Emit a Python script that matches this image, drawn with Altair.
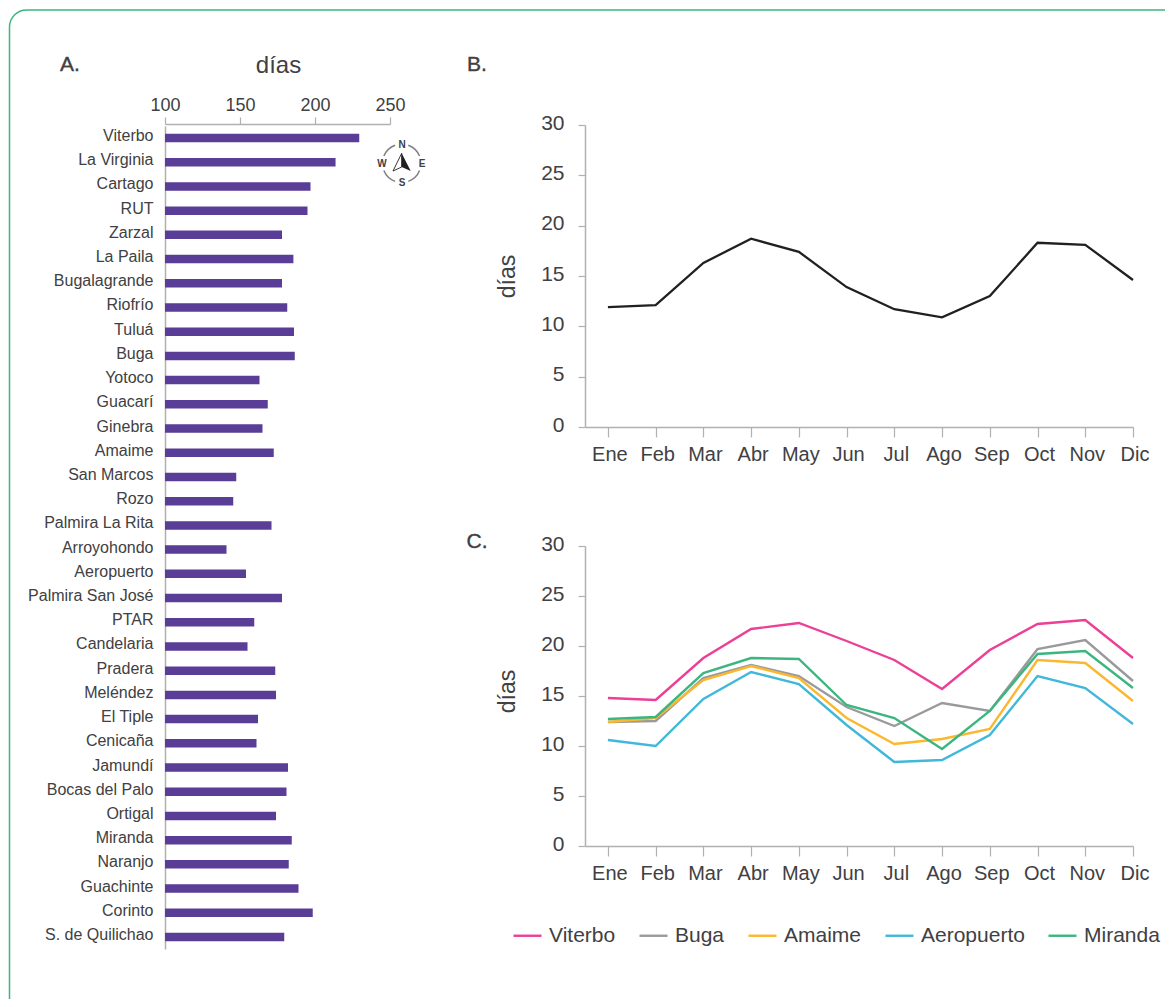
import altair as alt
import pandas as pd
import math

stations = ["Viterbo","La Virginia","Cartago","RUT","Zarzal","La Paila","Bugalagrande","Riofrío","Tuluá","Buga","Yotoco","Guacarí","Ginebra","Amaime","San Marcos","Rozo","Palmira La Rita","Arroyohondo","Aeropuerto","Palmira San José","PTAR","Candelaria","Pradera","Meléndez","El Tiple","Cenicaña","Jamundí","Bocas del Palo","Ortigal","Miranda","Naranjo","Guachinte","Corinto","S. de Quilichao"]
days = [229.5,213.7,197,195,178,185.6,178,181.5,186,186.5,163,168.5,165,172.5,147.5,145.5,171,141,154,178,159.5,155,173.5,174,162,161,182,181,174,184.5,182.5,189,198.5,179.5]
months = ["Ene","Feb","Mar","Abr","May","Jun","Jul","Ago","Sep","Oct","Nov","Dic"]
regional = [11.9,12.1,16.3,18.7,17.4,13.9,11.7,10.9,13.0,18.3,18.1,14.6]
viterbo = [14.8,14.6,18.8,21.7,22.3,20.5,18.6,15.7,19.6,22.2,22.6,18.8]
buga = [12.4,12.5,16.8,18.1,17.0,13.9,12.0,14.3,13.5,19.7,20.6,16.5]
amaime = [12.4,12.8,16.6,18.0,16.8,12.8,10.2,10.7,11.7,18.6,18.3,14.5]
aeropuerto = [10.6,10.0,14.7,17.4,16.2,12.1,8.4,8.6,11.1,17.0,15.8,12.2]
miranda = [12.7,12.9,17.3,18.8,18.7,14.1,12.8,9.7,13.5,19.2,19.5,15.8]
series = {"Viterbo":viterbo,"Buga":buga,"Amaime":amaime,"Aeropuerto":aeropuerto,"Miranda":miranda}
colors = ["#ec3f96","#9a9a9c","#fbb82f","#41b8d9","#3cb67f"]

FONT = "Liberation Sans"
TXT = "#414042"
AX = "#b1b1b3"
one = pd.DataFrame({"k":[0]})

df_a = pd.DataFrame({"station":stations,"days":days})
df_b = pd.DataFrame({"m":range(12),"v":regional})
df_c = pd.DataFrame([{"m":i,"v":v,"s":k,"o":j} for j,(k,vals) in enumerate(series.items()) for i,v in enumerate(vals)])

label_expr = "[" + ",".join(f"'{m}'" for m in months) + "][datum.value]"

box = alt.Chart(one).mark_rect(cornerRadius=17, fillOpacity=0, stroke="#3cb67f", strokeWidth=1.5).encode(
    x=alt.value(1.5), x2=alt.value(1300), y=alt.value(2), y2=alt.value(1015))

bars = alt.Chart(df_a).mark_bar(size=8.5, color="#5a3d96").encode(
    x=alt.X("days:Q", scale=alt.Scale(domain=[100,250], range=[157,382], nice=False),
            axis=alt.Axis(orient="top", offset=-116, values=[100,150,200,250], grid=False,
                          title="días", titleFontSize=24, titleFont=FONT, titleFontWeight="normal", titleColor=TXT,
                          titleX=270, titleY=-59, titleAlign="center", titleBaseline="middle",
                          labelFont=FONT, labelFontSize=18, labelColor=TXT, labelPadding=3,
                          tickSize=7, tickColor=AX, domainColor=AX, domainWidth=1.5, tickWidth=1.2, labelFlush=False)),
    x2=alt.datum(100),
    y=alt.Y("station:N", sort=stations, scale=alt.Scale(domain=stations, range=[117.9,941.1], padding=0),
            axis=alt.Axis(orient="left", offset=-157, title=None, ticks=False, grid=False,
                          labelFont=FONT, labelFontSize=16, labelColor=TXT, labelPadding=12, labelOffset=-2,
                          domainColor=AX, domainWidth=1.5, labelOverlap=False, labelLimit=200)),
)

def x_axis(off):
    return alt.Axis(orient="bottom", offset=off, values=list(range(12)), labelExpr=label_expr, title=None, grid=False,
                    labelFont=FONT, labelFontSize=20, labelColor=TXT, labelPadding=7, labelOffset=1.5, labelOverlap=False, labelFlush=False,
                    tickSize=10, tickColor=AX, tickWidth=1.2, domainColor=AX, domainWidth=1.5)

def y_axis(title_y):
    return alt.Axis(orient="left", offset=-577, values=[0,5,10,15,20,25,30], grid=False,
                    title="días", titleFont=FONT, titleFontSize=23, titleFontWeight="normal", titleColor=TXT, titleAngle=270,
                    titleX=-78, titleY=title_y, titleAlign="center", titleBaseline="middle",
                    labelFont=FONT, labelFontSize=21, labelColor=TXT, labelPadding=14, labelOffset=-2,
                    tickSize=7, tickColor=AX, tickWidth=1.2, domainColor=AX, domainWidth=1.5)

HEIGHT = 991
line_b = alt.Chart(df_b).mark_line(color="#231f20", strokeWidth=2.3).encode(
    x=alt.X("m:Q", scale=alt.Scale(domain=[-0.48,11], range=[577,1125], nice=False, zero=False), axis=x_axis(419-HEIGHT)),
    y=alt.Y("v:Q", scale=alt.Scale(domain=[0,30], range=[419,117], nice=False), axis=y_axis(268)),
)

line_c = alt.Chart(df_c).mark_line(strokeWidth=2.4).encode(
    x=alt.X("m:Q", scale=alt.Scale(domain=[-0.48,11], range=[577,1125], nice=False, zero=False), axis=x_axis(838-HEIGHT)),
    y=alt.Y("v:Q", scale=alt.Scale(domain=[0,30], range=[838,538], nice=False), axis=y_axis(683)),
    color=alt.Color("s:N", scale=alt.Scale(domain=list(series), range=colors),
                    legend=alt.Legend(orient="none", legendX=504, legendY=912, direction="horizontal", columns=5, title=None,
                                      symbolType="stroke", symbolSize=784, symbolStrokeWidth=2.4, labelFont=FONT, labelFontSize=21,
                                      labelColor=TXT, labelOffset=6, columnPadding=18)),
    order="o:Q",
    detail="s:N",
)

def txt(s, x, y, size, **kw):
    return alt.Chart(one).mark_text(font=FONT, fontSize=size, color=kw.pop("color", TXT), align="center", baseline="middle", **kw).encode(
        x=alt.value(x-8), y=alt.value(y-8), text=alt.value(s))

panel_labels = [txt("A.",70,65,21,stroke=TXT,strokeWidth=0.4), txt("B.",477,65,21,stroke=TXT,strokeWidth=0.4), txt("C.",477,542,21,stroke=TXT,strokeWidth=0.4)]

# compass
CX, CY = 401.7-8, 163.3-8
arc_degrees = [(20,68),(112,160),(200,248),(292,340)]
arcs = [alt.Chart(one).mark_arc(theta=math.radians(a), theta2=math.radians(b), radius=20, radius2=18.5, color="#808082").encode(
            x=alt.value(CX), y=alt.value(CY)) for a,b in arc_degrees]
arrow_left = alt.Chart(one).mark_point(shape="M0,-1L-0.87,0.77L0,0.37Z", size=400, filled=False, stroke="#231f20", strokeWidth=0.9, opacity=1).encode(
    x=alt.value(CX), y=alt.value(CY))
arrow_right = alt.Chart(one).mark_point(shape="M0,-1L0.9,0.77L0,0.37Z", size=400, filled=True, fill="#231f20", opacity=1).encode(
    x=alt.value(CX), y=alt.value(CY))
letters = [txt("N",402,145,10,fontWeight="bold"), txt("E",422,164,10,fontWeight="bold"),
           txt("S",402,183,10,fontWeight="bold"), txt("W",382,164,10,fontWeight="bold")]

chart = alt.layer(box, bars, line_b, line_c, *panel_labels, *arcs, arrow_left, arrow_right, *letters).resolve_scale(
    x="independent", y="independent", color="independent"
).resolve_axis(x="independent", y="independent").properties(
    width=1157, height=HEIGHT, padding=0, autosize=alt.AutoSizeParams(type="none"), background="white"
).configure_view(stroke=None)

chart.save("out.html", embed_options={"renderer": "svg", "actions": False})
